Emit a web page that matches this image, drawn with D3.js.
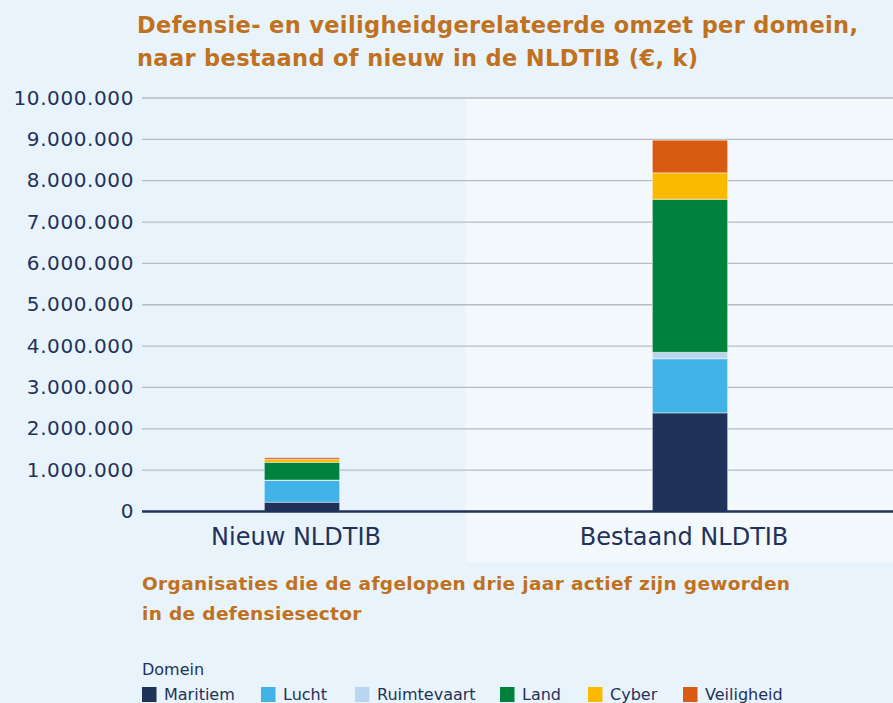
<!DOCTYPE html>
<html>
<head>
<meta charset="utf-8">
<script src="https://cdn.jsdelivr.net/npm/d3@7"></script>
<style>
  body { margin: 0; background: #e9f3fc; }
  svg { display: block; font-family: 'DejaVu Sans', sans-serif; }
</style>
</head>
<body>
<div id="chart"></div>
<script>
// data (in € k)
var categories = ['Nieuw NLDTIB', 'Bestaand NLDTIB']
var domains = ['Maritiem', 'Lucht', 'Ruimtevaart', 'Land', 'Cyber', 'Veiligheid']
var maritiem = [225000, 2385000]
var lucht = [525000, 1310000]
var ruimtevaart = [10000, 155000]
var land = [430000, 3700000]
var cyber = [70000, 640000]
var veiligheid = [40000, 790000]
var yTicks = [0, 1000000, 2000000, 3000000, 4000000, 5000000, 6000000, 7000000, 8000000, 9000000, 10000000]
var colors = ['#1f3259', '#41b3e6', '#bad5f0', '#00823d', '#fbb900', '#d95a12']

var titleLines = ['Defensie- en veiligheidgerelateerde omzet per domein,', 'naar bestaand of nieuw in de NLDTIB (€, k)']
var subLines = ['Organisaties die de afgelopen drie jaar actief zijn geworden', 'in de defensiesector']

var width = 893
var height = 703
var margin = { top: 98, left: 142, right: 0, bottom: 191 }

var table = categories.map(function(c, i) {
  return {
    category: c,
    Maritiem: maritiem[i],
    Lucht: lucht[i],
    Ruimtevaart: ruimtevaart[i],
    Land: land[i],
    Cyber: cyber[i],
    Veiligheid: veiligheid[i]
  }
})

var svg = d3.select('#chart')
  .append('svg')
  .attr('width', width)
  .attr('height', height)

svg.append('rect')
  .attr('width', width)
  .attr('height', height)
  .attr('fill', '#e9f3fc')

// lighter panel behind the second bar
svg.append('rect')
  .attr('x', 466)
  .attr('y', margin.top)
  .attr('width', width - 466)
  .attr('height', 562 - margin.top)
  .attr('fill', '#f3f8fd')

var yScale = d3.scaleLinear()
  .domain([0, 10000000])
  .range([height - margin.bottom - 0.5, margin.top])

var xScale = d3.scaleBand()
  .domain(categories)
  .range([108, 884])
  .paddingInner(0.806)
  .paddingOuter(0.403)

// gridlines
svg.append('g')
  .selectAll('line')
  .data(yTicks.slice(1))
  .enter()
  .append('line')
  .attr('x1', margin.left)
  .attr('x2', width)
  .attr('y1', d => yScale(d))
  .attr('y2', d => yScale(d))
  .attr('stroke', '#b5bcc4')
  .attr('stroke-width', 1.3)

// y labels
var fmt = d3.formatLocale({ decimal: ',', thousands: '.', grouping: [3], currency: ['€', ''] }).format(',d')
var yAxis = d3.axisLeft(yScale).tickValues(yTicks).tickFormat(fmt).tickSize(0).tickPadding(8)
svg.append('g')
  .attr('class', 'axis y-axis')
  .attr('transform', 'translate(' + margin.left + ',0)')
  .call(yAxis)
  .attr('font-family', null)
  .call(g => g.select('.domain').remove())
  .selectAll('text')
  .attr('fill', '#1f3259')
  .attr('font-size', 20)
  .attr('letter-spacing', 0.6)
  .attr('dy', '0.3em')

// stacked bars
var stack = d3.stack().keys(domains)
var series = stack(table)

svg.append('g')
  .selectAll('g')
  .data(series)
  .enter()
  .append('g')
  .attr('fill', (d, i) => colors[i])
  .selectAll('rect')
  .data(d => d)
  .enter()
  .append('rect')
  .attr('x', d => xScale(d.data.category))
  .attr('width', xScale.bandwidth())
  .attr('y', d => yScale(d[1]))
  .attr('height', d => yScale(d[0]) - yScale(d[1]))
  .attr('stroke', 'rgba(255,255,255,0.45)')
  .attr('stroke-width', 1)

// baseline
svg.append('line')
  .attr('x1', margin.left)
  .attr('x2', width)
  .attr('y1', yScale(0))
  .attr('y2', yScale(0))
  .attr('stroke', '#1f3259')
  .attr('stroke-width', 2.5)

// x labels
var xAxis = d3.axisBottom(xScale).tickSize(0).tickPadding(16)
svg.append('g')
  .attr('class', 'axis x-axis')
  .attr('transform', 'translate(-6,' + yScale(0) + ')')
  .call(xAxis)
  .attr('font-family', null)
  .call(g => g.select('.domain').remove())
  .selectAll('text')
  .attr('fill', '#1f3259')
  .attr('font-size', 24)

// title
svg.append('g')
  .selectAll('text')
  .data(titleLines)
  .enter()
  .append('text')
  .text(d => d)
  .attr('x', 137)
  .attr('y', (d, i) => 33 + i * 33)
  .attr('fill', '#c0711e')
  .attr('font-size', 22.5)
  .attr('letter-spacing', 0.35)
  .attr('font-weight', 700)

// subtitle
svg.append('g')
  .selectAll('text')
  .data(subLines)
  .enter()
  .append('text')
  .text(d => d)
  .attr('x', 142)
  .attr('y', (d, i) => 590 + i * 30)
  .attr('fill', '#c0711e')
  .attr('font-size', 18.5)
  .attr('letter-spacing', 0.35)
  .attr('font-weight', 700)

// legend
svg.append('text')
  .text('Domein')
  .attr('x', 142)
  .attr('y', 675)
  .attr('fill', '#1f3259')
  .attr('font-size', 16)

var legendX = [142, 261, 355, 500, 588, 683]
var legend = svg.append('g')
  .selectAll('g')
  .data(domains)
  .enter()
  .append('g')
  .attr('transform', (d, i) => 'translate(' + legendX[i] + ',687)')

legend.append('rect')
  .attr('width', 14.5)
  .attr('height', 15)
  .attr('fill', (d, i) => colors[i])

legend.append('text')
  .text(d => d)
  .attr('x', 22)
  .attr('y', 13)
  .attr('fill', '#1f3259')
  .attr('font-size', 16)
</script>
</body>
</html>
